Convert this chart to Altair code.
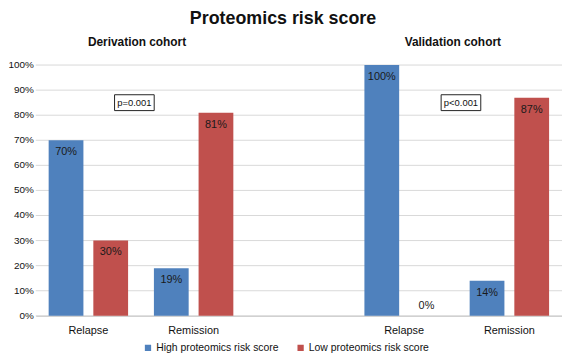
import altair as alt
import pandas as pd

# ---- data ----
slots = ["D|Relapse", "D|Remission", "gap", "V|Relapse", "V|Remission"]
bar_slots = ["D|Relapse", "D|Remission", "V|Relapse", "V|Remission"]
high_vals = [70, 19, 100, 14]
low_vals = [30, 81, 0, 87]
series_names = ["High proteomics risk score", "Low proteomics risk score"]
colors = ["#4F81BD", "#C0504D"]

y_ticks = [0, 10, 20, 30, 40, 50, 60, 70, 80, 90, 100]
y_tick_labels = ["0%", "10%", "20%", "30%", "40%", "50%", "60%", "70%", "80%", "90%", "100%"]

cohort_slots = ["D|Relapse", "V|Relapse"]
cohort_titles = ["Derivation cohort", "Validation cohort"]
pval_slots = ["D|Relapse", "V|Remission"]
pval_texts = ["p=0.001", "p<0.001"]
pval_y = [85, 85]
pval_band = [0.937, 0.04]

rows = []
for s, h, l in zip(bar_slots, high_vals, low_vals):
    rows.append({"slot": s, "series": series_names[0], "value": h, "label": f"{h}%"})
    rows.append({"slot": s, "series": series_names[1], "value": l, "label": f"{l}%"})
df = pd.DataFrame(rows)

cohort_df = pd.DataFrame({"slot": cohort_slots, "title": cohort_titles})
tick_df = pd.DataFrame({"tick": y_ticks, "tlabel": y_tick_labels})

FONT = "Liberation Sans"

xscale = alt.Scale(domain=slots, paddingInner=0, paddingOuter=0)
xoff_scale = alt.Scale(domain=series_names, paddingInner=0.222, paddingOuter=0.289)
yscale = alt.Scale(domain=[0, 100], nice=False)

x_axis = alt.Axis(
    labelExpr="indexof(datum.label,'|') > 0 ? split(datum.label,'|')[1] : ''",
    labelAngle=0, ticks=False, domain=True, domainColor="#bfbfbf",
    labelFont=FONT, labelFontSize=11, labelColor="#111", labelPadding=9,
    grid=False,
)


def xenc(field="slot:N", band=None):
    if band is None:
        return alt.X(field, scale=xscale, title=None, axis=x_axis)
    return alt.X(field, scale=xscale, title=None, axis=x_axis, bandPosition=band)


def yenc(field="value:Q"):
    return alt.Y(field, scale=yscale, title=None, axis=None)


# gridlines and y tick labels
grid = alt.Chart(tick_df).mark_rule(color="#d9d9d9", strokeWidth=1).encode(
    y=yenc("tick:Q")
)
ylabels = alt.Chart(tick_df).mark_text(
    align="right", baseline="middle", font=FONT, fontSize=10, color="#111"
).encode(
    y=yenc("tick:Q"), x=alt.value(-2), text="tlabel:N"
)

base = alt.Chart(df)

bars = base.mark_bar().encode(
    x=xenc(),
    xOffset=alt.XOffset("series:N", scale=xoff_scale),
    y=yenc(),
    color=alt.Color(
        "series:N", scale=alt.Scale(domain=series_names, range=colors),
        legend=alt.Legend(
            title=None, orient="none", direction="horizontal",
            legendX=108, legendY=280, symbolType="square", symbolSize=40,
            symbolStrokeWidth=0, labelFont=FONT, labelFontSize=10.5,
            labelColor="#111", columnPadding=16, labelOffset=3,
        ),
    ),
)

labels = base.transform_filter("datum.value > 0").mark_text(
    baseline="middle", dy=12, font=FONT, fontSize=11, color="#1a1a1a"
).encode(
    x=xenc(),
    xOffset=alt.XOffset("series:N", scale=xoff_scale),
    y=yenc(),
    text="label:N",
)

zero_labels = base.transform_filter("datum.value == 0").mark_text(
    baseline="middle", dy=-10, font=FONT, fontSize=11, color="#1a1a1a"
).encode(
    x=xenc(),
    xOffset=alt.XOffset("series:N", scale=xoff_scale),
    y=yenc(),
    text="label:N",
)

cohorts = alt.Chart(cohort_df).mark_text(
    baseline="middle", dy=-23, dx=-4, font=FONT, fontSize=12, fontWeight="bold",
    color="#111",
).encode(
    x=xenc(band=1),
    y=alt.YDatum(100, scale=yscale, title=None, axis=None),
    text="title:N",
)

layers = [grid, ylabels, bars, labels, zero_labels, cohorts]
for s, t, yv, bp in zip(pval_slots, pval_texts, pval_y, pval_band):
    pdf = pd.DataFrame({"slot": [s], "text": [t], "y": [yv]})
    box = alt.Chart(pdf).mark_point(
        shape="M-1,-0.4L1,-0.4L1,0.4L-1,0.4Z", size=1600, filled=False,
        stroke="#222", strokeWidth=1, opacity=1,
    ).encode(x=xenc(band=bp), y=yenc("y:Q"))
    txt = alt.Chart(pdf).mark_text(
        baseline="middle", font=FONT, fontSize=9.5, color="#111",
    ).encode(x=xenc(band=bp), y=yenc("y:Q"), text="text:N")
    layers += [box, txt]

chart = alt.layer(*layers).properties(
    width=531, height=253,
    title=alt.TitleParams(
        "Proteomics risk score", font=FONT, fontSize=18, fontWeight="bold",
        color="#111", anchor="middle", offset=8, dx=-16,
    ),
    autosize=alt.AutoSizeParams(type="none"),
    padding={"left": 28, "top": 56, "right": 0, "bottom": 40},
).configure_view(stroke=None)

chart.save("out.html", embed_options={"renderer": "svg", "actions": False})
